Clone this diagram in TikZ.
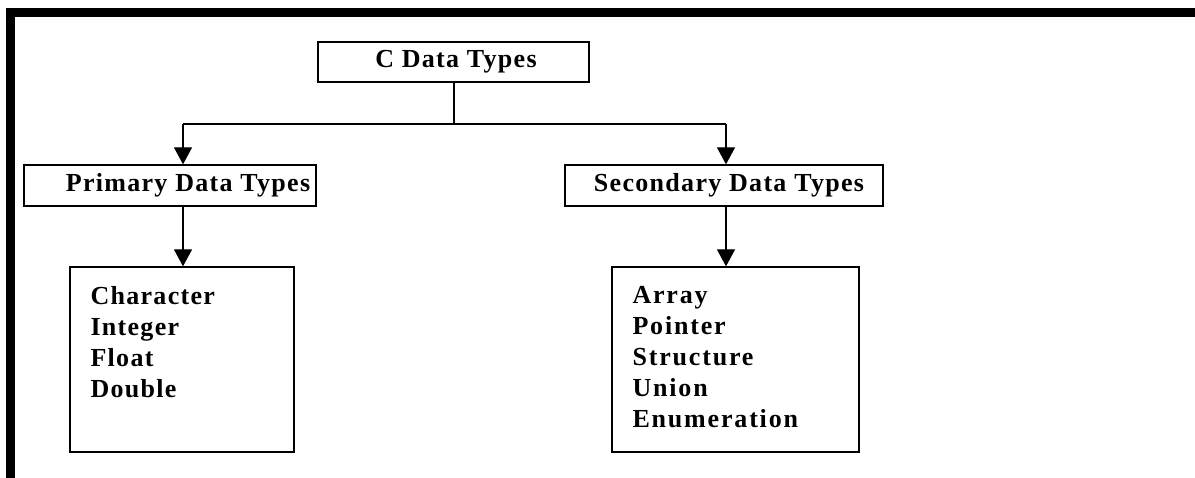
\documentclass[tikz,border=0pt]{standalone}
\usepackage{fontspec}
\setmainfont{Liberation Serif}
\usetikzlibrary{arrows.meta}
\tikzset{
  box/.style={draw, line width=1.3pt, inner sep=0pt, font=\fontsize{26}{31}\selectfont\bfseries\addfontfeatures{LetterSpace=5}},
  listbox/.style={draw, line width=1.3pt, inner sep=0pt},
  listtext/.style={inner sep=0pt, align=left, anchor=north west, font=\fontsize{26}{31}\selectfont\bfseries\addfontfeatures{LetterSpace=5}},
  conn/.style={line width=1.3pt},
  arr/.style={line width=1.3pt, -{Triangle[width=18pt,length=17pt]}},
  frame/.style={fill=black, draw=none}
}
\begin{document}
\begin{tikzpicture}[x=1pt,y=-1pt]
\useasboundingbox (0,0) rectangle (1195,478);
% frame
\fill[frame] (6,8) rectangle (1195,17);
\fill[frame] (6,8) rectangle (15,478);
% boxes
\node[box, minimum width=271pt, minimum height=40pt] (title) at (453.5,62) {\hspace*{5pt}\raisebox{-2pt}{C Data Types}};
\node[box, minimum width=292pt, minimum height=41pt] (prim) at (170,185.5) {\hspace*{36pt}\raisebox{-2pt}{Primary Data Types}};
\node[box, minimum width=318pt, minimum height=41pt] (sec) at (724,185.5) {\hspace*{10pt}\raisebox{-2pt}{Secondary Data Types}};
\node[listbox, minimum width=224pt, minimum height=185pt] (plist) at (182,359.5) {};
\node[listbox, minimum width=247pt, minimum height=185pt] (slist) at (735.5,359.5) {};
\node[listtext] (ptext) at ([xshift=21pt,yshift=-20pt]plist.north west) {Character\\Integer\\Float\\Double};
\node[listtext, font=\fontsize{26}{31}\selectfont\bfseries\addfontfeatures{LetterSpace=7}] (stext) at ([xshift=21pt,yshift=-20pt]slist.north west) {Array\\Pointer\\Structure\\Union\\Enumeration};
% connectors
\coordinate (jm) at (454,124);
\coordinate (jl) at (183,124);
\coordinate (jr) at (726,124);
\draw[conn] (title.south -| jm) -- (jm);
\draw[conn] (jl) -- (jr);
\draw[arr] (jl) -- (jl |- prim.north);
\draw[arr] (jr) -- (jr |- sec.north);
\draw[arr] (prim.south -| jl) -- (jl |- plist.north);
\draw[arr] (sec.south -| jr) -- (jr |- slist.north);
\end{tikzpicture}
\end{document}
